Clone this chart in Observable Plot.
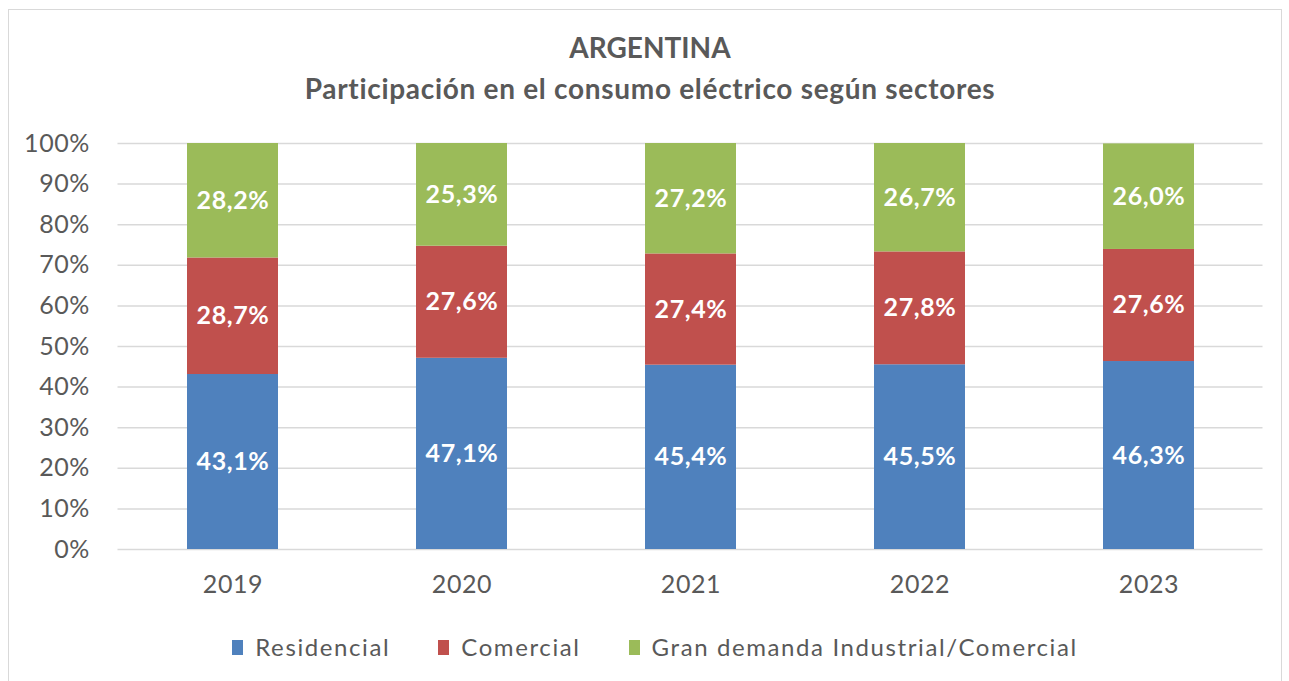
<!DOCTYPE html>
<html>
<head>
<meta charset="utf-8">
<script src="https://cdn.jsdelivr.net/npm/d3@7"></script>
<script src="https://cdn.jsdelivr.net/npm/@observablehq/plot@0.6"></script>
<style>
  html, body { margin: 0; padding: 0; background: #fff; }
  #wrap { position: relative; width: 1289px; height: 681px; overflow: hidden; font-family: Lato, "Open Sans", sans-serif; }
  #frame { position: absolute; left: 8px; top: 9px; width: 1274px; height: 690px; border: 1px solid #d9d9d9; box-sizing: border-box; }
  .title { position: absolute; left: 0; width: 1300px; text-align: center; color: #595959; font-weight: bold; font-size: 28px; line-height: 32px; }
  #plot { position: absolute; left: 0; top: 0; }
  #legend { position: absolute; left: 0; top: 632px; width: 1310px; display: flex; justify-content: center; gap: 0; color: #595959; font-size: 24px; letter-spacing: 1.6px; line-height: 30px; }
  .item { display: flex; align-items: center; margin: 0 24px; }
  .sw { width: 11px; height: 15px; margin-right: 12px; }
  svg text { letter-spacing: 0.6px; }
</style>
</head>
<body>
<div id="wrap">
  <div id="frame"></div>
  <div class="title" style="top:31px">ARGENTINA</div>
  <div class="title" style="top:72px; letter-spacing:0.7px">Participación en el consumo eléctrico según sectores</div>
  <div id="plot"></div>
  <div id="legend"></div>
</div>
<script>
const years = ["2019", "2020", "2021", "2022", "2023"];
const sectors = ["Residencial", "Comercial", "Gran demanda Industrial/Comercial"];
const colors = ["#4F81BD", "#C0504D", "#9BBB59"];
const residencial = [43.1, 47.1, 45.4, 45.5, 46.3];
const comercial = [28.7, 27.6, 27.4, 27.8, 27.6];
const granDemanda = [28.2, 25.3, 27.2, 26.7, 26.0];
const yTicks = [0, 10, 20, 30, 40, 50, 60, 70, 80, 90, 100];

const series = [residencial, comercial, granDemanda];
const data = [];
sectors.forEach((s, i) => years.forEach((y, j) => data.push({year: y, sector: s, value: series[i][j]})));

const fmt = v => v.toFixed(1).replace(".", ",") + "%";

const chart = Plot.plot({
  width: 1289,
  height: 610,
  marginTop: 143,
  marginBottom: 61,
  marginLeft: 117.5,
  marginRight: 26.5,
  style: {fontFamily: "Lato, 'Open Sans', sans-serif", fontSize: "24px", color: "#595959", background: "transparent", overflow: "visible"},
  x: {domain: years, paddingInner: 0.603, paddingOuter: 0.3015, label: null},
  y: {domain: [0, 100], label: null},
  color: {domain: sectors, range: colors},
  marks: [
    Plot.ruleY(yTicks, {stroke: "#d9d9d9", strokeWidth: 1.5}),
    Plot.barY(data, {x: "year", y: "value", fill: "sector", z: "sector"}),
    Plot.text(data, Plot.stackY({x: "year", y: "value", z: "sector", text: d => fmt(d.value), fill: "white", fontWeight: "bold", fontSize: 25})),
    Plot.axisY({ticks: yTicks, tickFormat: d => d + "%", tickSize: 0, tickPadding: 28, fontSize: 25, fill: "#595959"}),
    Plot.axisX({tickSize: 0, tickPadding: 26, fontSize: 25, fill: "#595959"})
  ]
});
document.getElementById("plot").appendChild(chart);

const legend = document.getElementById("legend");
sectors.forEach((s, i) => {
  const it = document.createElement("div");
  it.className = "item";
  const sw = document.createElement("span");
  sw.className = "sw";
  sw.style.background = colors[i];
  const t = document.createElement("span");
  t.textContent = s;
  it.appendChild(sw); it.appendChild(t);
  legend.appendChild(it);
});
</script>
</body>
</html>
